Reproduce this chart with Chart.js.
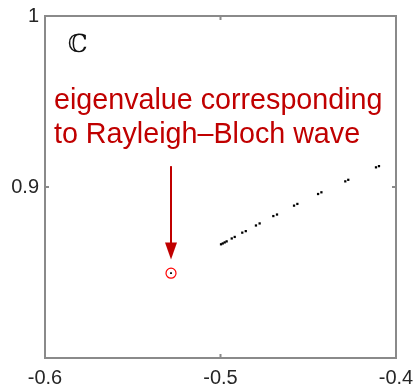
<!DOCTYPE html>
<html>
<head>
<meta charset="utf-8">
<script src="https://cdn.jsdelivr.net/npm/chart.js@4.4.1/dist/chart.umd.min.js"></script>
<style>
  html, body { margin: 0; padding: 0; background: #fff; }
  #wrap { width: 417px; height: 384px; position: relative; }
</style>
</head>
<body>
<div id="wrap"><canvas id="eigChart"></canvas></div>
<script>
const reParts = [-0.4997, -0.4987, -0.4976, -0.4965, -0.4936, -0.4919, -0.4876, -0.4856, -0.4798, -0.4777,
                 -0.4699, -0.4678, -0.4581, -0.4562, -0.4444, -0.4425, -0.4289, -0.4272, -0.4114, -0.4097];
const imParts = [0.8665, 0.8670, 0.8676, 0.8682, 0.8699, 0.8708, 0.8733, 0.8742, 0.8775, 0.8787,
                 0.8830, 0.8839, 0.8891, 0.8901, 0.8959, 0.8969, 0.9033, 0.9042, 0.9115, 0.9122];

// the Rayleigh-Bloch eigenvalue
const rbRe = [-0.5282];
const rbIm = [0.8496];

const xTicks = [-0.6, -0.5, -0.4];
const yTicks = [0.9, 1];

const noteLines = ['eigenvalue corresponding', 'to Rayleigh\u2013Bloch wave'];

const RED = '#c00000';

const eigPoints = reParts.map((x, i) => ({ x: x, y: imParts[i] }));
const rbPoints = rbRe.map((x, i) => ({ x: x, y: rbIm[i] }));

// box, inward ticks, label and arrow
const decorations = {
    id: 'decorations',
    afterDraw(chart) {
        const ctx = chart.ctx;
        const a = chart.chartArea;
        const xs = chart.scales.x;
        const ys = chart.scales.y;
        ctx.save();
        ctx.strokeStyle = '#8a8a8a';
        ctx.lineWidth = 2;
        ctx.strokeRect(a.left, a.top, a.right - a.left, a.bottom - a.top);
        ctx.beginPath();
        xTicks.forEach(v => {
            const px = xs.getPixelForValue(v);
            ctx.moveTo(px, a.bottom); ctx.lineTo(px, a.bottom - 4);
            ctx.moveTo(px, a.top); ctx.lineTo(px, a.top + 4);
        });
        yTicks.forEach(v => {
            const py = ys.getPixelForValue(v);
            ctx.moveTo(a.left, py); ctx.lineTo(a.left + 4, py);
            ctx.moveTo(a.right, py); ctx.lineTo(a.right - 4, py);
        });
        ctx.stroke();

        // complex plane symbol
        ctx.fillStyle = '#111';
        ctx.font = '25px "DejaVu Serif"';
        ctx.textBaseline = 'alphabetic';
        ctx.fillText('\u2102', xs.getPixelForValue(-0.5870), ys.getPixelForValue(0.9790));

        // annotation text
        ctx.fillStyle = RED;
        ctx.font = '28.7px "Liberation Sans", Arial, sans-serif';
        const tx = xs.getPixelForValue(-0.5949);
        ctx.fillText(noteLines[0], tx, ys.getPixelForValue(0.9457));
        ctx.fillText(noteLines[1], tx, ys.getPixelForValue(0.9260));

        // arrow down to the eigenvalue
        const ax = xs.getPixelForValue(rbRe[0]);
        const y0 = ys.getPixelForValue(0.9122);
        const y1 = ys.getPixelForValue(0.8576);
        ctx.strokeStyle = RED;
        ctx.lineWidth = 2;
        ctx.beginPath();
        ctx.moveTo(ax, y0);
        ctx.lineTo(ax, y1 - 12);
        ctx.stroke();
        ctx.beginPath();
        ctx.moveTo(ax - 6, y1 - 17);
        ctx.lineTo(ax + 6, y1 - 17);
        ctx.lineTo(ax, y1);
        ctx.closePath();
        ctx.fill();
        ctx.restore();
    }
};

const ctx = document.getElementById('eigChart').getContext('2d');

new Chart(ctx, {
    type: 'scatter',
    data: {
        datasets: [{
            label: 'eigenvalues',
            data: eigPoints,
            pointStyle: 'rect',
            pointRadius: 1.6,
            backgroundColor: '#000',
            borderWidth: 0
        }, {
            label: 'Rayleigh-Bloch',
            data: rbPoints,
            pointStyle: 'circle',
            pointRadius: 5,
            backgroundColor: 'rgba(0,0,0,0)',
            borderColor: '#ff0000',
            borderWidth: 1.2
        }, {
            label: 'Rayleigh-Bloch dot',
            data: rbPoints,
            pointStyle: 'rect',
            pointRadius: 1.3,
            backgroundColor: '#000',
            borderWidth: 0
        }]
    },
    options: {
        responsive: true,
        maintainAspectRatio: false,
        animation: false,
        layout: { padding: { top: 16, right: 21, left: 0, bottom: 0 } },
        plugins: {
            legend: { display: false },
            tooltip: { enabled: false }
        },
        scales: {
            x: {
                type: 'linear',
                min: -0.6,
                max: -0.4,
                afterBuildTicks: scale => { scale.ticks = xTicks.map(v => ({ value: v })); },
                afterFit: scale => { scale.height = 26; scale.paddingRight = 0; scale.paddingLeft = 0; },
                grid: { display: false, drawTicks: false },
                border: { display: false },
                ticks: {
                    color: '#262626',
                    padding: 8,
                    maxRotation: 0,
                    font: { family: '"Liberation Sans", Arial, sans-serif', size: 20 },
                    callback: v => String(Math.round(v * 10) / 10)
                }
            },
            y: {
                type: 'linear',
                min: 0.8,
                max: 1,
                afterBuildTicks: scale => { scale.ticks = yTicks.map(v => ({ value: v })); },
                afterFit: scale => { scale.width = 45; scale.paddingTop = 0; scale.paddingBottom = 0; },
                grid: { display: false, drawTicks: false },
                border: { display: false },
                ticks: {
                    color: '#262626',
                    padding: 6,
                    font: { family: '"Liberation Sans", Arial, sans-serif', size: 20 },
                    callback: v => String(Math.round(v * 10) / 10)
                }
            }
        }
    },
    plugins: [decorations]
});
</script>
</body>
</html>
